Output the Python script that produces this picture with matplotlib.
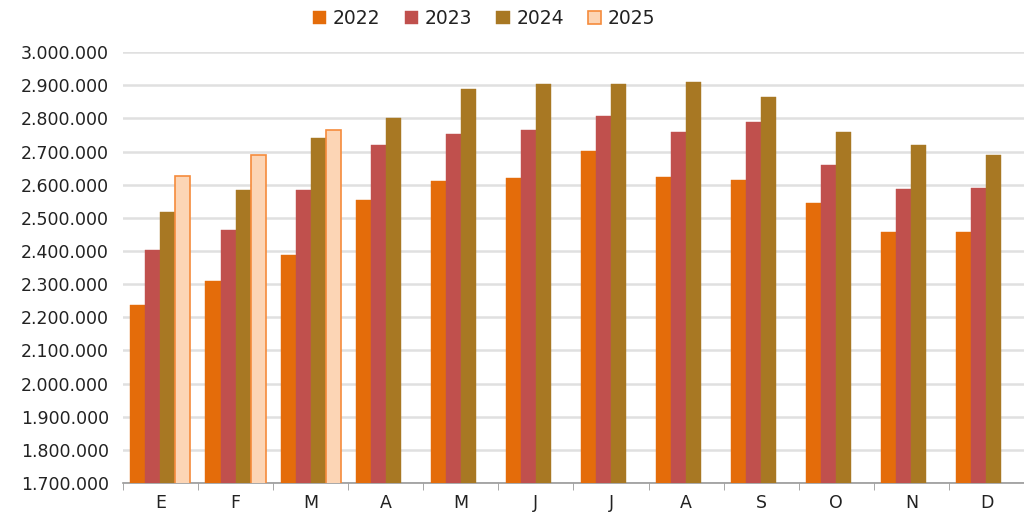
import matplotlib.pyplot as plt
import numpy as np
from matplotlib.ticker import FuncFormatter, FixedLocator

months = ['E', 'F', 'M', 'A', 'M', 'J', 'J', 'A', 'S', 'O', 'N', 'D']
years = ['2022', '2023', '2024', '2025']

v2022 = [2237000, 2309000, 2388000, 2554000, 2610000, 2620000, 2702000, 2623000, 2615000, 2545000, 2457000, 2457000]
v2023 = [2403000, 2463000, 2584000, 2720000, 2753000, 2765000, 2807000, 2759000, 2790000, 2660000, 2586000, 2591000]
v2024 = [2517000, 2584000, 2741000, 2801000, 2889000, 2904000, 2904000, 2910000, 2865000, 2758000, 2720000, 2690000]
v2025 = [2626000, 2689000, 2765000]

colors = ['#E46C0A', '#C0504D', '#A87823', '#FCD5B5']
edges = ['#E46C0A', '#C0504D', '#A87823', '#F58B3C']

fig = plt.figure(figsize=(10.24, 5.13), dpi=100)
ax = fig.add_axes([0.12, 0.0585, 0.88, 0.84])

x = np.arange(len(months))
w = 0.2
series = [v2022, v2023, v2024, v2025]
for i, vals in enumerate(series):
    xs = x[:len(vals)] + (i - 1.5) * w
    ax.bar(xs, vals, width=w, color=colors[i], edgecolor=edges[i],
           linewidth=1.2 if i == 3 else 0.3, label=years[i], zorder=3)

ax.set_xlim(-0.5, 11.5)
ax.set_ylim(1700000, 3000000)
ax.set_yticks(np.arange(1700000, 3000001, 100000))
ax.yaxis.set_major_formatter(FuncFormatter(lambda v, p: f'{int(v):,}'.replace(',', '.')))
ax.grid(axis='y', color='#e0e0e0', linewidth=1.8, zorder=0)
ax.set_axisbelow(True)

ax.set_xticks(x)
ax.set_xticklabels(months)
ax.xaxis.set_minor_locator(FixedLocator(np.arange(-0.5, 12, 1)))
ax.tick_params(axis='x', which='major', length=0, pad=8, labelsize=12.5, labelcolor='#222222')
ax.tick_params(axis='x', which='minor', length=5, color='#999999')
ax.tick_params(axis='y', length=0, pad=10, labelsize=12.5, labelcolor='#222222')

for s in ['top', 'right', 'left']:
    ax.spines[s].set_visible(False)
ax.spines['bottom'].set_color('#999999')
ax.spines['bottom'].set_linewidth(1.2)

fig.legend(loc='upper center', bbox_to_anchor=(0.473, 1.015), ncol=4, frameon=False,
           fontsize=13.5, handlelength=0.7, handleheight=0.7, handletextpad=0.35,
           columnspacing=1.3, labelcolor='#222222')

plt.savefig('out.png', dpi=100)
